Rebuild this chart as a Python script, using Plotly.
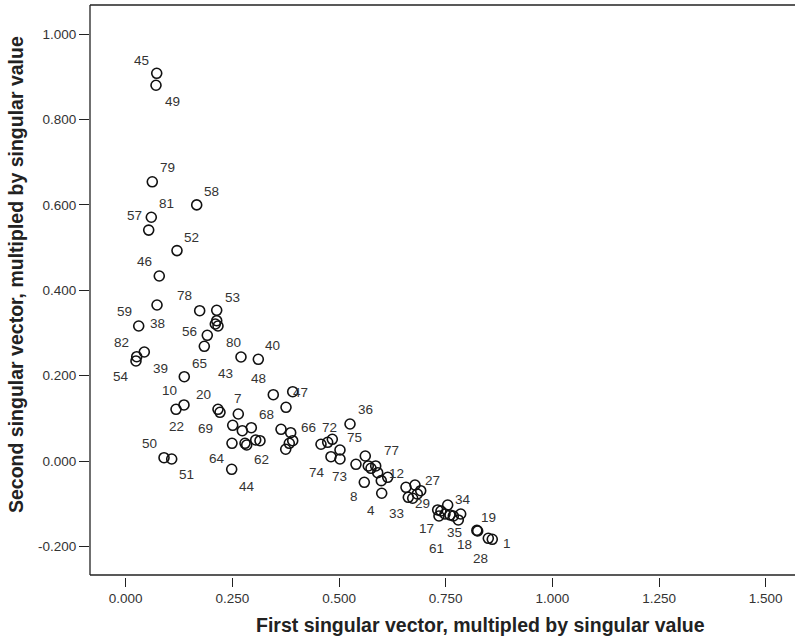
import plotly.graph_objects as go

# ---- data ----
point_ids = ["45", "49", "79", "58", "81", "57", "52", "46", "38", "78",
             "59", "53", "", "", "80", "", "56", "43", "40", "39",
             "82", "54", "65", "48", "", "47", "10", "22", "20", "69",
             "7", "", "", "68", "", "", "64", "", "62", "",
             "", "66", "", "", "", "72", "", "75", "74", "73",
             "36", "", "", "", "", "77", "", "12", "", "8",
             "4", "29", "", "", "27", "", "33", "", "", "17",
             "35", "", "34", "61", "", "", "19", "18", "28", "1",
             "50", "51", "44"]
first_sv = [0.0727, 0.0710, 0.0623, 0.1664, 0.0600, 0.0539, 0.1202, 0.0787, 0.0734, 0.1734,
            0.0305, 0.2133, 0.2133, 0.2100, 0.2163, 0.1912, 0.1842, 0.2702, 0.3108, 0.0436,
            0.0258, 0.0241, 0.1373, 0.3459, 0.3914, 0.3757, 0.1366, 0.1179, 0.2163, 0.2210,
            0.2639, 0.2508, 0.2733, 0.2944, 0.3640, 0.3867, 0.2491, 0.2796, 0.2836, 0.3047,
            0.3147, 0.3914, 0.3834, 0.3750, 0.4577, 0.4734, 0.4842, 0.5022, 0.4811, 0.5022,
            0.5257, 0.5397, 0.5615, 0.5685, 0.5749, 0.5859, 0.5906, 0.6140, 0.5990, 0.5592,
            0.6000, 0.6569, 0.6780, 0.6914, 0.6834, 0.6623, 0.6726, 0.7312, 0.7546, 0.7389,
            0.7342, 0.7483, 0.7600, 0.7678, 0.7851, 0.7795, 0.8249, 0.8230, 0.8498, 0.8591,
            0.0898, 0.1078, 0.2484]
second_sv = [0.908, 0.880, 0.654, 0.600, 0.571, 0.541, 0.493, 0.4335, 0.3656, 0.3523,
             0.3165, 0.3532, 0.3289, 0.3212, 0.3165, 0.2947, 0.2690, 0.2439, 0.2385, 0.2556,
             0.2446, 0.2346, 0.1978, 0.1557, 0.1627, 0.1262, 0.1316, 0.1215, 0.1215, 0.1145,
             0.1105, 0.0840, 0.0714, 0.0784, 0.0747, 0.0667, 0.0419, 0.0419, 0.0379, 0.0496,
             0.0480, 0.0480, 0.0419, 0.0279, 0.0396, 0.0442, 0.0513, 0.0262, 0.0105, 0.0051,
             0.0871, -0.0073, 0.0122, -0.0112, -0.0166, -0.0112, -0.0269, -0.0377, -0.0456, -0.0494,
             -0.0751, -0.0611, -0.0557, -0.0691, -0.0768, -0.0845, -0.0868, -0.1142, -0.1025, -0.1166,
             -0.1283, -0.1236, -0.1259, -0.1283, -0.1236, -0.1376, -0.1634, -0.1620, -0.1805, -0.1828,
             0.0082, 0.0051, -0.0190]

x_tick_vals = [0.0, 0.25, 0.5, 0.75, 1.0, 1.25, 1.5]
x_tick_text = ["0.000", "0.250", "0.500", "0.750", "1.000", "1.250", "1.500"]
y_tick_vals = [-0.2, 0.0, 0.2, 0.4, 0.6, 0.8, 1.0]
y_tick_text = ["-0.200", "0.000", "0.200", "0.400", "0.600", "0.800", "1.000"]

x_title = "First singular vector, multipled by singular value"
y_title = "Second singular vector, multipled by singular value"

# ---- label placement (pixel offsets from each point: dx right, dy down) ----
label_offsets = {
    "45": (-15, -13), "49": (16, 16), "79": (15, -14), "58": (15, -13), "81": (15, -14),
    "57": (-14, -15), "52": (15, -13), "46": (-15, -15), "38": (0, 18), "78": (-15, -15),
    "59": (-14.5, -14.5), "53": (15.6, -13), "80": (15.3, 16.3), "56": (-15, -14.6),
    "43": (-15, 16), "40": (14.4, -14.3), "39": (15.7, 16.3), "82": (-15, -14.4),
    "54": (-15, 16), "65": (15, -13.4), "48": (-15, -15.7), "47": (14.7, -14.6),
    "10": (-14, -14.3), "22": (0, 17), "20": (-14.7, -15), "69": (-15, 16), "7": (0, -15.7),
    "68": (14.7, -13.7), "64": (-15.3, 15.7), "62": (15, 14), "66": (15.6, -13.4),
    "72": (1.6, -15), "75": (15, -12.7), "74": (-14.3, 15.6), "73": (0, 17), "36": (15, -14),
    "77": (15.3, -15.3), "12": (9, -4), "8": (-10, 14), "4": (-10.7, 17.7), "29": (16.3, 16.7),
    "27": (15.2, -14), "33": (-15.7, 15.7), "17": (-14.3, 17.3), "35": (16, 16.3),
    "34": (13.3, -15.7), "61": (-16.6, 32.3), "19": (11.3, -13.7), "18": (-11.9, 14.6),
    "28": (-7.6, 20), "1": (14.4, 4), "50": (-14.7, -14.4), "51": (15, 15.3), "44": (15, 16.7),
}

FONT = "Liberation Sans, Arial, Helvetica, sans-serif"
TEXT = "#333333"
LINE = "#222222"

W, H = 795, 641
ML, MR, MT, MB = 90, 0, 5, 64
PW, PH = W - ML - MR, H - MT - MB

fig = go.Figure()
fig.add_trace(go.Scatter(
    x=first_sv, y=second_sv, mode="markers",
    marker=dict(symbol="circle-open", size=10, color="#111111", line=dict(width=1.6)),
    hoverinfo="text", text=point_ids, showlegend=False,
))

annotations = []
for pid, xv, yv in zip(point_ids, first_sv, second_sv):
    if not pid:
        continue
    dx, dy = label_offsets.get(pid, (15, -14))
    annotations.append(dict(
        x=xv, y=yv, xref="x", yref="y", text=pid, showarrow=False,
        xshift=dx, yshift=-dy, font=dict(family=FONT, size=13.5, color=TEXT),
    ))

# axis titles
annotations.append(dict(
    x=(480 - ML) / PW, y=0, xref="paper", yref="paper", yshift=-48,
    text="<b>%s</b>" % x_title, showarrow=False, xanchor="center", yanchor="middle",
    font=dict(family=FONT, size=19.5, color="#222222"),
))
annotations.append(dict(
    x=0, y=(H - MB - 275) / PH, xref="paper", yref="paper", xshift=16 - ML,
    text="<b>%s</b>" % y_title, showarrow=False, textangle=-90,
    xanchor="center", yanchor="middle",
    font=dict(family=FONT, size=19.5, color="#222222"),
))

# frame (left, top, bottom), bottom line sits slightly above the x tick row
yb = 2 / PH
shapes = [
    dict(type="line", xref="paper", yref="paper", x0=0, x1=0, y0=yb, y1=1,
         line=dict(color=LINE, width=1.3)),
    dict(type="line", xref="paper", yref="paper", x0=0, x1=1.01, y0=1, y1=1,
         line=dict(color=LINE, width=1.3)),
    dict(type="line", xref="paper", yref="paper", x0=0, x1=1.01, y0=yb, y1=yb,
         line=dict(color=LINE, width=1.3)),
]

fig.update_layout(
    width=W, height=H,
    margin=dict(l=ML, r=MR, t=MT, b=MB, pad=0),
    paper_bgcolor="white", plot_bgcolor="white",
    font=dict(family=FONT, size=13.5, color=TEXT),
    annotations=annotations, shapes=shapes,
    xaxis=dict(range=[-0.08367, 1.5686], tickvals=x_tick_vals, ticktext=x_tick_text,
               ticks="outside", ticklen=9, tickwidth=1.3, tickcolor=LINE,
               showgrid=False, zeroline=False, showline=False,
               tickfont=dict(family=FONT, size=13.5, color=TEXT)),
    yaxis=dict(range=[-0.2711, 1.0679], tickvals=y_tick_vals, ticktext=y_tick_text,
               ticks="outside", ticklen=10, tickwidth=1.3, tickcolor=LINE,
               showgrid=False, zeroline=False, showline=False,
               tickfont=dict(family=FONT, size=13.5, color=TEXT)),
)

fig.write_html("out.html")
